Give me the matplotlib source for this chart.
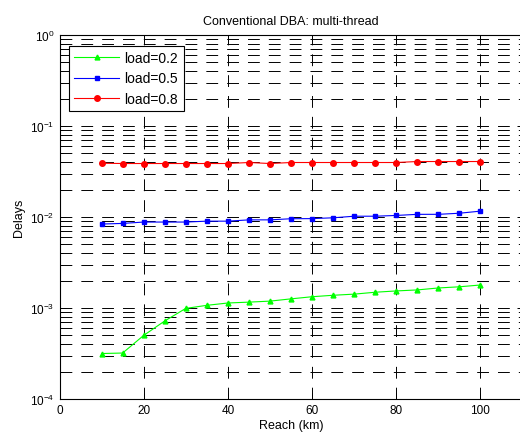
import numpy as np
import matplotlib
matplotlib.use("Agg")
import matplotlib.pyplot as plt
from matplotlib.ticker import LogLocator, NullFormatter, FixedLocator

plt.rcParams['font.family'] = ['Liberation Sans', 'DejaVu Sans']
plt.rcParams['mathtext.fontset'] = 'custom'
plt.rcParams['mathtext.rm'] = 'Liberation Sans'
plt.rcParams['mathtext.it'] = 'Liberation Sans:italic'
plt.rcParams['lines.scale_dashes'] = False

reach = [10, 15, 20, 25, 30, 35, 40, 45, 50, 55, 60, 65, 70, 75, 80, 85, 90, 95, 100]
load02 = [3.16e-4, 3.2e-4, 5.0e-4, 7.2e-4, 9.9e-4, 1.07e-3, 1.135e-3, 1.16e-3, 1.19e-3,
          1.26e-3, 1.33e-3, 1.38e-3, 1.42e-3, 1.49e-3, 1.54e-3, 1.58e-3, 1.66e-3, 1.71e-3, 1.79e-3]
load05 = [0.00837, 0.0085, 0.0088, 0.0088, 0.0088, 0.0090, 0.0090, 0.0093, 0.0093,
          0.00957, 0.0096, 0.0098, 0.0102, 0.0102, 0.0104, 0.0107, 0.0107, 0.0110, 0.0116]
load08 = [0.0390, 0.0387, 0.0387, 0.0387, 0.0387, 0.0387, 0.0387, 0.0397, 0.0387,
          0.0397, 0.0397, 0.0397, 0.0397, 0.0397, 0.0397, 0.0407, 0.0407, 0.0407, 0.0407]
labels = ['load=0.2', 'load=0.5', 'load=0.8']
xticks = [0, 20, 40, 60, 80, 100]

W, H = 520, 439
fig = plt.figure(figsize=(W / 100, H / 100), dpi=100)
ax = fig.add_axes([59.5 / W, (H - 400) / H, 463 / W, 364 / H])

ax.plot(reach, load02, color=(0, 1, 0), marker='^', markersize=3.5, lw=0.8, label=labels[0])
ax.plot(reach, load05, color=(0, 0, 1), marker='s', markersize=3.5, lw=0.8, label=labels[1])
ax.plot(reach, load08, color=(1, 0, 0), marker='o', markersize=4, lw=0.8, label=labels[2])

ax.set_yscale('log')
ax.set_ylim(1e-4, 1e0)
ax.set_xlim(0, 110)
ax.xaxis.set_major_locator(FixedLocator(xticks))
ax.yaxis.set_major_locator(LogLocator(base=10, numticks=10))
ax.yaxis.set_minor_locator(LogLocator(base=10, subs=np.arange(2, 10), numticks=20))
ax.yaxis.set_minor_formatter(NullFormatter())

dash = (0, (8.5, 6.5))
ax.grid(True, which='major', axis='both', color='black', lw=0.7, linestyle=dash)
ax.grid(True, which='minor', axis='y', color='black', lw=0.7, linestyle=dash)

ax.tick_params(which='both', direction='in', top=True, right=True, labelsize=8.5,
               width=0.7, colors='black')
ax.tick_params(which='major', length=4)
ax.tick_params(which='minor', length=2.5)
for s in ax.spines.values():
    s.set_linewidth(0.8)

ax.set_title('Conventional DBA: multi-thread', fontsize=9, pad=8)
ax.set_xlabel('Reach (km)', fontsize=9, labelpad=2)
ax.set_ylabel('Delays', fontsize=9, labelpad=4)

leg = ax.legend(loc='upper left', fontsize=10, fancybox=False, framealpha=1,
                edgecolor='black', handlelength=3.2, handletextpad=0.4,
                labelspacing=0.45, borderaxespad=0.5,
                bbox_to_anchor=(0.005, 0.99))
leg.get_frame().set_linewidth(0.8)

fig.savefig('out.png', dpi=100)
